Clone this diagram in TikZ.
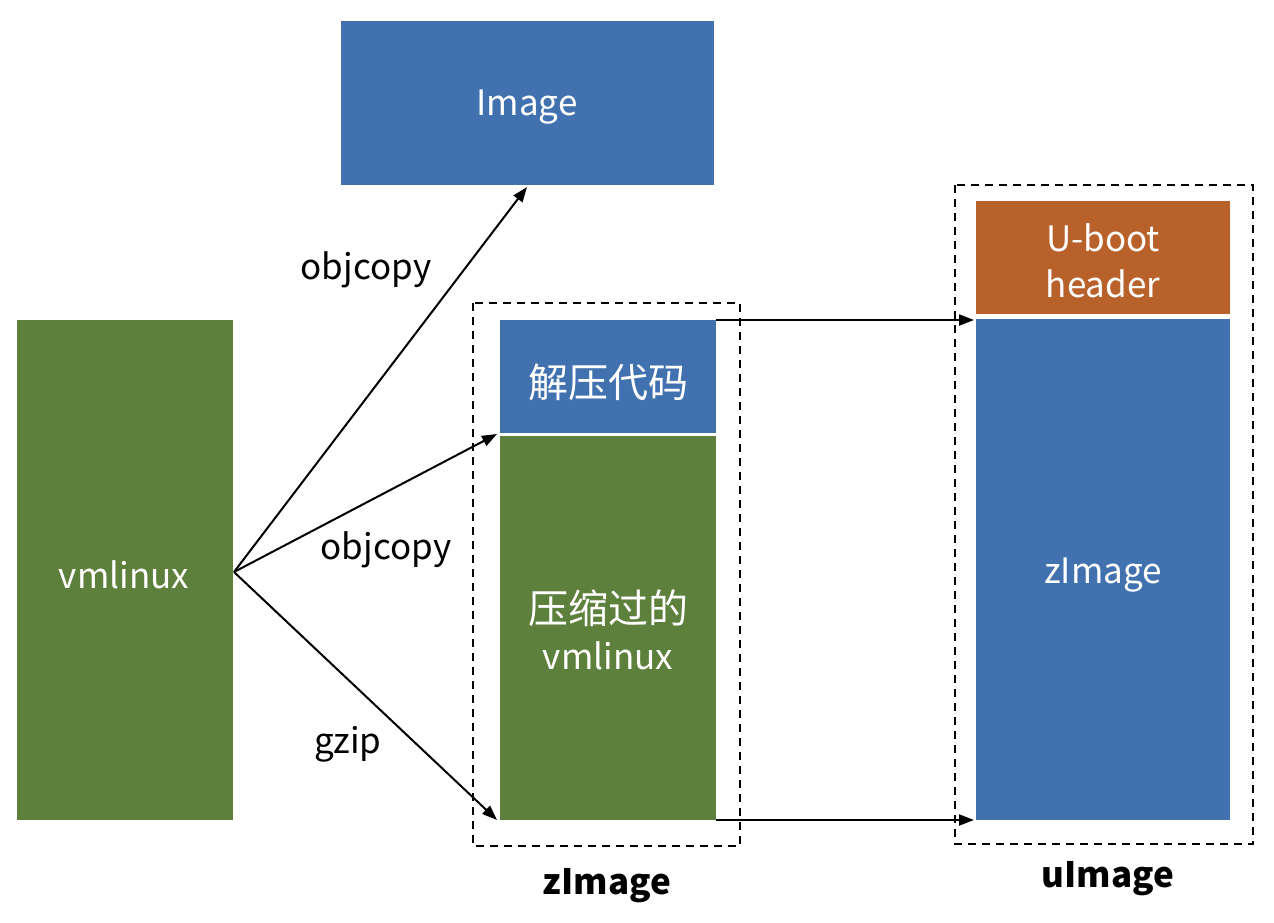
\documentclass[tikz,border=0pt]{standalone}
\usepackage{fontspec}
\setmainfont{Noto Sans CJK SC}
\usetikzlibrary{arrows.meta}
\definecolor{cblue}{RGB}{65,114,175}
\definecolor{cgreen}{RGB}{94,128,61}
\definecolor{corange}{RGB}{184,97,42}
\newcommand{\cjkbig}[1]{{\fontsize{40}{44}\selectfont #1}}
\begin{document}
\begin{tikzpicture}[x=1pt,y=-1pt,
  blk/.style={inner sep=0pt,text=white,font=\fontsize{35}{46}\selectfont,align=center},
  dbox/.style={draw=black,line width=2pt,dash pattern=on 8pt off 6pt},
  arr/.style={line width=2pt,-{Triangle[length=15pt,width=11pt]}},
  lbl/.style={font=\fontsize{35}{44}\selectfont,text=black},
  blbl/.style={font=\fontsize{35}{44}\selectfont\bfseries,text=black}]
\useasboundingbox (0,0) rectangle (1274,922);
% boxes
\path[fill=cblue] (341,21) rectangle (714,185);
\node[blk] (image) at (527,107) {Image};
\coordinate (imageb) at (527,187);
\path[fill=cgreen] (17,320) rectangle (233,820);
\node[blk] (vml) at (124,575) {vmlinux};
\coordinate (src) at (234,572);
% zImage
\path[fill=cblue] (500,320) rectangle (716,433);
\node[blk] (dec) at (608,382) {\cjkbig{解压代码}};
\path[fill=cgreen] (500,436) rectangle (716,820);
\node[blk] (cmp) at (608,630) {\cjkbig{压缩过的}\\vmlinux};
\draw[dbox] (473,303) rectangle (740,846);
\node[blbl] (zlab) at (607,886) {zImage};
% uImage
\path[fill=corange] (976,201) rectangle (1230,314);
\node[blk] (hdr) at (1103,261) {U-boot\\header};
\path[fill=cblue] (976,319) rectangle (1230,820);
\node[blk] (zimg) at (1103,575) {zImage};
\draw[dbox] (955,185) rectangle (1253,844);
\node[blbl] (ulab) at (1108,879) {uImage};
% arrows
\coordinate (t1) at (497,434);
\coordinate (t2) at (497,820);
\coordinate (s3) at (716,320);
\coordinate (t3) at (974,320);
\coordinate (s4) at (716,820);
\coordinate (t4) at (974,820);
\draw[arr] (src) -- (imageb);
\draw[arr] (src) -- (t1);
\draw[arr] (src) -- (t2);
\draw[arr] (s3) -- (t3);
\draw[arr] (s4) -- (t4);
\node[lbl] (l1) at (366,270) {objcopy};
\node[lbl] (l2) at (386,550) {objcopy};
\node[lbl] (l3) at (348,744) {gzip};
\end{tikzpicture}
\end{document}
